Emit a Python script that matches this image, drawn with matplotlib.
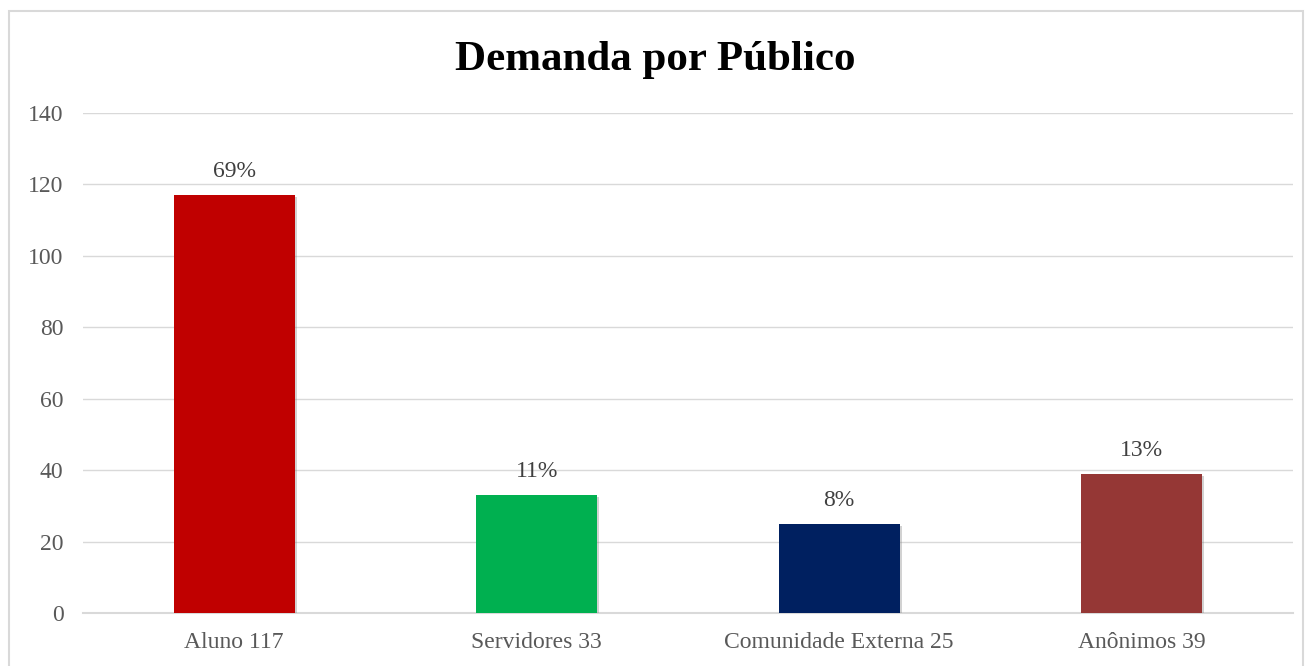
import matplotlib.pyplot as plt
from matplotlib.patches import Rectangle
import matplotlib.patheffects as pe

# Dados do gráfico
categorias = ['Aluno 117', 'Servidores 33', 'Comunidade Externa 25', 'Anônimos 39']
valores = [117, 33, 25, 39]
rotulos = ['69%', '11%', '8%', '13%']
cores = ['#C00000', '#00B050', '#002060', '#953735']

plt.rcParams['font.family'] = ['Liberation Serif', 'DejaVu Serif']

fig = plt.figure(figsize=(13.11, 6.66), dpi=100)
ax = fig.add_axes([83 / 1311, 53 / 666, 1210 / 1311, 500 / 666])

# Moldura externa do gráfico
fig.patches.append(Rectangle((9 / 1311, -0.01), 1294 / 1311, 655 / 666 + 0.01,
                             transform=fig.transFigure, fill=False,
                             edgecolor='#D9D9D9', linewidth=1.5))

x = range(len(categorias))
sombra = [pe.SimplePatchShadow(offset=(1.5, -1.5), shadow_rgbFace='#808080', alpha=0.35),
          pe.Normal()]
barras = ax.bar(x, valores, width=0.4, color=cores, zorder=3, path_effects=sombra)

for b, r in zip(barras, rotulos):
    ax.text(b.get_x() + b.get_width() / 2, b.get_height() + 3.6, r,
            ha='center', va='bottom', fontsize=17, color='#404040')

ax.set_xlim(-0.5, 3.5)
ax.set_ylim(0, 140)
ax.set_yticks(range(0, 141, 20))
ax.set_xticks(list(x))
ax.set_xticklabels(categorias)
ax.grid(axis='y', color='#D9D9D9', linewidth=1, zorder=0)
ax.axhline(0, color='#D9D9D9', linewidth=1.5, zorder=2, clip_on=False)
for s in ax.spines.values():
    s.set_visible(False)
ax.tick_params(length=0, labelsize=17, labelcolor='#595959')
ax.tick_params(axis='y', pad=14)
ax.tick_params(axis='x', pad=14)

fig.text(0.5, 1 - 60 / 666, 'Demanda por Público', ha='center', va='center',
         fontsize=31, fontweight='bold', color='black')

fig.savefig('out.png', dpi=100)
